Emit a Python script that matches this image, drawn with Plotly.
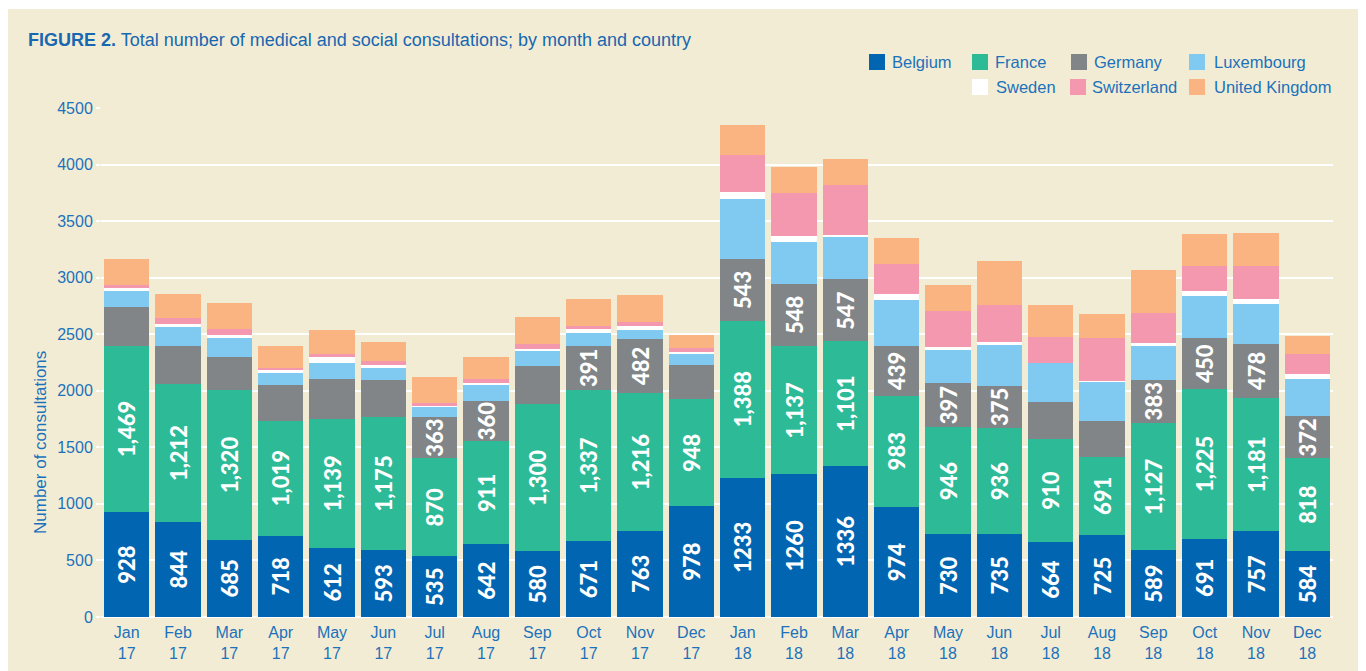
import plotly.graph_objects as go

# ---------------- data ----------------
months = ["Jan<br>17", "Feb<br>17", "Mar<br>17", "Apr<br>17", "May<br>17", "Jun<br>17",
          "Jul<br>17", "Aug<br>17", "Sep<br>17", "Oct<br>17", "Nov<br>17", "Dec<br>17",
          "Jan<br>18", "Feb<br>18", "Mar<br>18", "Apr<br>18", "May<br>18", "Jun<br>18",
          "Jul<br>18", "Aug<br>18", "Sep<br>18", "Oct<br>18", "Nov<br>18", "Dec<br>18"]

belgium = [928, 844, 685, 718, 612, 593, 535, 642, 580, 671, 763, 978,
           1233, 1260, 1336, 974, 730, 735, 664, 725, 589, 691, 757, 584]
france = [1469, 1212, 1320, 1019, 1139, 1175, 870, 911, 1300, 1337, 1216, 948,
          1388, 1137, 1101, 983, 946, 936, 910, 691, 1127, 1325, 1181, 818]
germany = [344, 341, 295, 315, 354, 328, 363, 360, 340, 391, 482, 303,
           543, 548, 547, 439, 397, 375, 328, 318, 383, 450, 478, 372]
luxembourg = [142, 168, 170, 106, 142, 106, 90, 142, 135, 113, 80, 97,
              531, 367, 384, 403, 284, 367, 342, 347, 298, 372, 352, 331]
sweden = [29, 26, 24, 33, 53, 27, 11, 15, 15, 35, 35, 18,
          62, 56, 10, 53, 34, 15, 0, 8, 23, 45, 44, 44]
switzerland = [24, 53, 53, 11, 26, 35, 24, 35, 44, 26, 36, 35,
               330, 383, 442, 270, 314, 327, 232, 381, 268, 220, 291, 177]
united_kingdom = [229, 212, 230, 195, 212, 168, 230, 195, 239, 239, 238, 115,
                  265, 227, 230, 228, 227, 389, 283, 209, 380, 283, 292, 159]

# printed labels (as shown on the original chart)
belgium_labels = ["928", "844", "685", "718", "612", "593", "535", "642", "580", "671", "763", "978",
                  "1233", "1260", "1336", "974", "730", "735", "664", "725", "589", "691", "757", "584"]
france_labels = ["1,469", "1,212", "1,320", "1,019", "1,139", "1,175", "870", "911", "1,300", "1,337", "1,216", "948",
                 "1,388", "1,137", "1,101", "983", "946", "936", "910", "691", "1,127", "1,225", "1,181", "818"]
germany_labels = ["", "", "", "", "", "", "363", "360", "", "391", "482", "",
                  "543", "548", "547", "439", "397", "375", "", "", "383", "450", "478", "372"]

y_ticks = [0, 500, 1000, 1500, 2000, 2500, 3000, 3500, 4000, 4500]

# ---------------- style ----------------
W, H = 1366, 671
OFF = 8  # page body margin offset of the rendered figure
L, R, T, B = 101 - OFF, 1333 - OFF, 108 - OFF, 617 - OFF
BG = "#f3ecd4"
BLUE_TXT = "#1b72bb"
TITLE_BLUE = "#1767b1"
FONT = "Liberation Sans, Arial"

series = [
    ("Belgium", belgium, "#0265b2", belgium_labels),
    ("France", france, "#2cba97", france_labels),
    ("Germany", germany, "#828587", germany_labels),
    ("Luxembourg", luxembourg, "#80c9f1", None),
    ("Sweden", sweden, "#ffffff", None),
    ("Switzerland", switzerland, "#f498b0", None),
    ("United Kingdom", united_kingdom, "#f9b482", None),
]


def px2x(px):
    return (px - OFF - L) / (R - L)


def py2y(py):
    return (B - (py - OFF)) / (B - T)


fig = go.Figure()
for name, vals, color, labels in series:
    fig.add_trace(go.Bar(
        name=name, x=months, y=vals,
        marker=dict(color=color, line=dict(width=0)),
        text=labels if labels else None,
        textposition="inside" if labels else "none",
        textangle=-90,
        insidetextanchor="middle",
        constraintext="none",
        textfont=dict(family="Lato", size=22, color="white", weight=900),
        hoverinfo="x+y+name",
    ))

shapes = [
    # thin white strip at the top of the cream panel
    dict(type="rect", xref="paper", yref="paper", x0=px2x(0), x1=px2x(W + 20), y0=py2y(0), y1=py2y(9),
         fillcolor="white", line=dict(width=0), layer="above"),
]

annotations = [
    dict(text="<b>FIGURE 2.</b> Total number of medical and social consultations; by month and country",
         xref="paper", yref="paper", x=px2x(26), y=py2y(40), xanchor="left", yanchor="middle",
         showarrow=False, font=dict(family=FONT, size=18, color=TITLE_BLUE)),
    dict(text="Number of consultations", xref="paper", yref="paper", x=px2x(40), y=py2y(443),
         xanchor="center", yanchor="middle", textangle=-90, showarrow=False,
         font=dict(family=FONT, size=17, color=BLUE_TXT)),
]

# manual legend (two rows, second row starts under "France")
legend_pos = {
    "Belgium": (869, 62, 890),
    "France": (972, 62, 993),
    "Germany": (1071, 62, 1092),
    "Luxembourg": (1189, 62, 1212),
    "Sweden": (972, 87, 994),
    "Switzerland": (1070, 87, 1090),
    "United Kingdom": (1189, 87, 1212),
}
for name, vals, color, labels in series:
    sx, cy, tx = legend_pos[name]
    shapes.append(dict(type="rect", xref="paper", yref="paper",
                       x0=px2x(sx), x1=px2x(sx + 16), y0=py2y(cy - 8), y1=py2y(cy + 8),
                       fillcolor=color, line=dict(width=0), layer="above"))
    annotations.append(dict(text=name, xref="paper", yref="paper", x=px2x(tx), y=py2y(cy),
                            xanchor="left", yanchor="middle", showarrow=False,
                            font=dict(family=FONT, size=16.5, color=BLUE_TXT)))

fig.update_layout(
    width=W, height=H,
    barmode="stack", bargap=0.123,
    paper_bgcolor=BG, plot_bgcolor=BG,
    margin=dict(l=L, r=W - R, t=T, b=H - B, pad=0),
    showlegend=False,
    shapes=shapes, annotations=annotations,
    font=dict(family=FONT, size=16, color=BLUE_TXT),
    xaxis=dict(showgrid=False, showline=False, ticks="", tickangle=0, ticklabelstandoff=4,
               tickfont=dict(size=16, color=BLUE_TXT)),
    yaxis=dict(range=[0, 4500], tickvals=y_ticks, showgrid=True, gridcolor="white", gridwidth=2,
               zeroline=True, zerolinecolor="white", zerolinewidth=2,
               ticks="outside", ticklen=4, tickwidth=2, tickcolor="white",
               tickfont=dict(size=16, color=BLUE_TXT), showline=False),
)

fig.write_html("out.html")
